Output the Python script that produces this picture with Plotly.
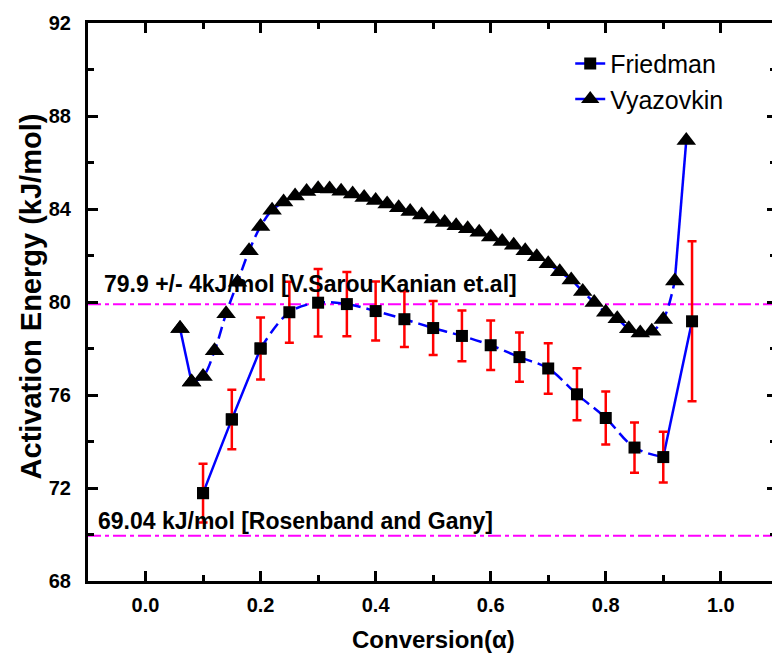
import plotly.graph_objects as go

# ---------------- data ----------------
friedman_x = [0.10, 0.15, 0.20, 0.25, 0.30, 0.35, 0.40, 0.45, 0.50,
              0.55, 0.60, 0.65, 0.70, 0.75, 0.80, 0.85, 0.90, 0.95]
friedman_e = [71.78, 74.95, 78.00, 79.56, 79.97, 79.91, 79.61, 79.26, 78.88,
              78.54, 78.14, 77.63, 77.14, 76.03, 75.01, 73.74, 73.33, 79.17]
friedman_err = [1.26, 1.28, 1.33, 1.31, 1.45, 1.38, 1.27, 1.20, 1.16,
                1.09, 1.06, 1.06, 1.09, 1.12, 1.14, 1.08, 1.09, 3.44]

vyaz_x = [0.06, 0.08, 0.10, 0.12, 0.14, 0.16, 0.18, 0.20, 0.22, 0.24,
          0.26, 0.28, 0.30, 0.32, 0.34, 0.36, 0.38, 0.40, 0.42, 0.44,
          0.46, 0.48, 0.50, 0.52, 0.54, 0.56, 0.58, 0.60, 0.62, 0.64,
          0.66, 0.68, 0.70, 0.72, 0.74, 0.76, 0.78, 0.80, 0.82, 0.84,
          0.86, 0.88, 0.90, 0.92, 0.94]
vyaz_e = [78.86, 76.56, 76.80, 77.90, 79.50, 80.85, 82.20, 83.25, 83.95, 84.30,
          84.56, 84.75, 84.87, 84.86, 84.76, 84.64, 84.50, 84.37, 84.22, 84.05,
          83.89, 83.74, 83.57, 83.42, 83.28, 83.15, 83.00, 82.80, 82.60, 82.44,
          82.20, 81.95, 81.65, 81.30, 80.95, 80.45, 79.98, 79.56, 79.28, 78.85,
          78.67, 78.74, 79.25, 80.90, 86.95]

ref_values = [79.9, 69.95]
ref_labels = ["79.9 +/- 4kJ/mol [V.Sarou Kanian et.al]",
              "69.04 kJ/mol [Rosenband and Gany]"]

x_ticks = [0.0, 0.2, 0.4, 0.6, 0.8, 1.0]
y_ticks = [68, 72, 76, 80, 84, 88, 92]

# ---------------- styling ----------------
BLUE = "#0000FF"
FONT = "Arial, Liberation Sans, sans-serif"
DASH = "12px,6px"
TRI = 17
SQ = 12

fig = go.Figure()

# Friedman: solid steep start (legend entry), dashed middle, solid steep end
fig.add_trace(go.Scatter(
    x=friedman_x[0:3], y=friedman_e[0:3], mode="lines+markers", name="Friedman",
    line=dict(color=BLUE, width=2.5, shape="spline"),
    marker=dict(symbol="square", size=SQ, color="black"),
    hoverinfo="skip"))
fig.add_trace(go.Scatter(
    x=friedman_x[2:17], y=friedman_e[2:17], mode="lines", showlegend=False,
    line=dict(color=BLUE, width=2.5, shape="spline", dash=DASH), hoverinfo="skip"))
fig.add_trace(go.Scatter(
    x=friedman_x[16:18], y=friedman_e[16:18], mode="lines", showlegend=False,
    line=dict(color=BLUE, width=2.5), hoverinfo="skip"))

# Vyazovkin
fig.add_trace(go.Scatter(
    x=vyaz_x[0:2], y=vyaz_e[0:2], mode="lines+markers", name="Vyazovkin",
    line=dict(color=BLUE, width=2.5),
    marker=dict(symbol="triangle-up", size=TRI, color="black"),
    hoverinfo="skip"))
fig.add_trace(go.Scatter(
    x=vyaz_x[1:44], y=vyaz_e[1:44], mode="lines", showlegend=False,
    line=dict(color=BLUE, width=2.5, shape="spline", dash=DASH), hoverinfo="skip"))
fig.add_trace(go.Scatter(
    x=vyaz_x[43:45], y=vyaz_e[43:45], mode="lines", showlegend=False,
    line=dict(color=BLUE, width=2.5), hoverinfo="skip"))

# markers on top
fig.add_trace(go.Scatter(
    x=vyaz_x, y=vyaz_e, mode="markers", showlegend=False,
    marker=dict(symbol="triangle-up", size=TRI, color="black"), hoverinfo="skip"))
fig.add_trace(go.Scatter(
    x=friedman_x, y=friedman_e, mode="markers", showlegend=False,
    marker=dict(symbol="square", size=SQ, color="black"),
    error_y=dict(type="data", array=friedman_err, color="#FF0000",
                 thickness=2.5, width=4.5),
    hoverinfo="skip"))

# dummy trace for right-hand tick axis
fig.add_trace(go.Scatter(x=[None], y=[None], yaxis="y2", showlegend=False,
                         hoverinfo="skip"))

shapes = []
annotations = []
shifts = [20, 15]
lefts = [0.021, 0.012]
for val, lab, sh, lx in zip(ref_values, ref_labels, shifts, lefts):
    shapes.append(dict(type="line", xref="paper", x0=0, x1=1, yref="y",
                       y0=val, y1=val, layer="below",
                       line=dict(color="#FF00FF", width=2, dash="13px,4px,4px,4px")))
    annotations.append(dict(text=lab, xref="paper", x=lx, xanchor="left",
                            yref="y", y=val, yanchor="middle", yshift=sh,
                            showarrow=False,
                            font=dict(family=FONT, size=23, color="black",
                                      weight="bold")))

annotations.append(dict(text="Conversion(α)", xref="x", x=0.5, xanchor="center",
                        yref="paper", y=-0.104, yanchor="middle", showarrow=False,
                        font=dict(family=FONT, size=24, color="black", weight="bold")))
annotations.append(dict(text="Activation Energy (kJ/mol)", xref="paper", x=-0.0833,
                        xanchor="center", yref="paper", y=0.51, yanchor="middle",
                        textangle=-90, showarrow=False,
                        font=dict(family=FONT, size=29, color="black", weight="bold")))

fig.update_layout(
    width=772, height=658, autosize=False,
    margin=dict(l=88, r=0, t=23, b=77),
    paper_bgcolor="white", plot_bgcolor="white",
    font=dict(family=FONT, color="black"),
    shapes=shapes, annotations=annotations,
    legend=dict(x=0.705, y=0.968, xanchor="left", yanchor="top",
                bgcolor="rgba(0,0,0,0)", font=dict(family=FONT, size=25)),
    xaxis=dict(range=[-0.1, 1.089], tickvals=x_ticks, tickformat=".1f",
               ticks="inside", ticklen=10, tickwidth=3, tickcolor="black",
               showline=True, linewidth=3, linecolor="black", mirror="ticks",
               showgrid=False, zeroline=False, ticklabelstandoff=4,
               minor=dict(dtick=0.1, tick0=0, ticks="inside", ticklen=6,
                          tickwidth=3, tickcolor="black"),
               tickfont=dict(family=FONT, size=20, color="black", weight="bold")),
    yaxis=dict(range=[68, 92], tickvals=y_ticks,
               ticks="inside", ticklen=10, tickwidth=3, tickcolor="black",
               showline=True, linewidth=3, linecolor="black", mirror=False,
               showgrid=False, zeroline=False, ticklabelstandoff=10,
               minor=dict(dtick=2, tick0=68, ticks="inside", ticklen=6,
                          tickwidth=3, tickcolor="black")),
    yaxis2=dict(range=[68, 92], tickvals=y_ticks, overlaying="y", side="right",
                ticks="inside", ticklen=5, tickwidth=3, tickcolor="black",
                showline=False, showticklabels=False, showgrid=False,
                zeroline=False,
                minor=dict(dtick=2, tick0=68, ticks="inside", ticklen=2,
                           tickwidth=3, tickcolor="black")),
)
fig.update_yaxes(tickfont=dict(family=FONT, size=20, color="black", weight="bold"),
                 selector=dict(overlaying=None))

fig.write_html("out.html")
